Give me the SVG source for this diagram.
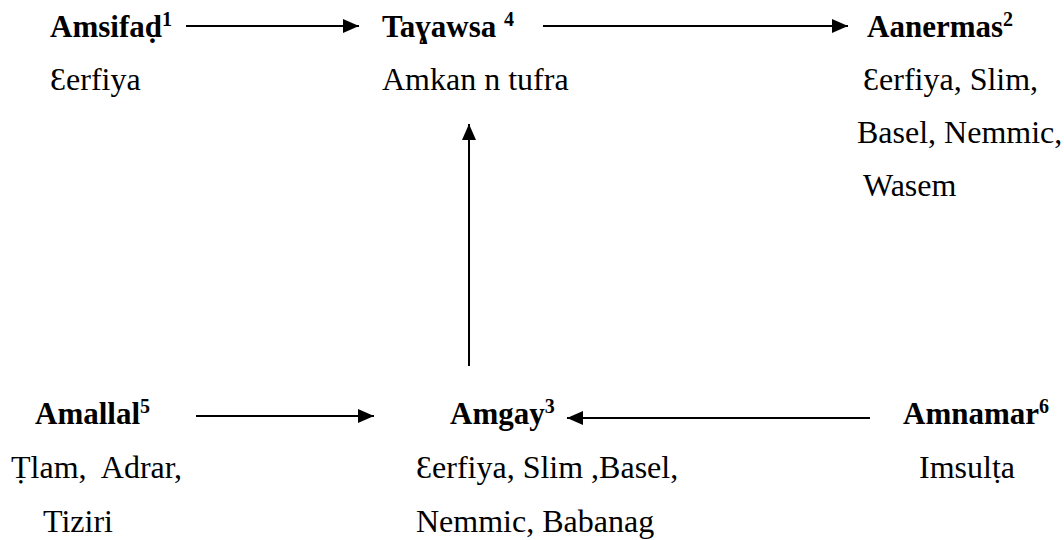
<svg xmlns="http://www.w3.org/2000/svg" width="1064" height="540" viewBox="0 0 1064 540" font-family="'Liberation Serif', 'Times New Roman', Tinos, serif">
<style>
text{font-family:"Liberation Serif","Times New Roman",Tinos,serif;font-size:32px;fill:#000;white-space:pre}
.h{font-weight:bold;font-size:31px}
.sup{font-size:20px;font-weight:bold}
.edge{stroke:#000;stroke-width:2;fill:none;marker-end:url(#ah)}
</style>
<defs>
<marker id="ah" markerUnits="userSpaceOnUse" markerWidth="18" markerHeight="16" refX="16" refY="8" orient="auto">
<path d="M0,1 L16,8 L0,15 Z" fill="#000"/>
</marker>
</defs>
<rect width="1064" height="540" fill="#fff"/>
<g id="connectors">
<line class="edge" x1="186" y1="26" x2="359" y2="26"/>
<line class="edge" x1="543" y1="26" x2="848" y2="26"/>
<line class="edge" x1="469" y1="366" x2="469" y2="124"/>
<line class="edge" x1="196" y1="416" x2="374" y2="416"/>
<line class="edge" x1="870" y1="418" x2="567" y2="418"/>
</g>
<g id="amsifad">
<text class="h" x="50" y="37">Amsifaḍ<tspan class="sup" dy="-11">1</tspan></text>
<text x="50" y="90">Ɛerfiya</text>
</g>
<g id="tagawsa">
<text class="h" x="382" y="37">Taɣawsa <tspan class="sup" dy="-11">4</tspan></text>
<text x="382" y="90">Amkan n tufra</text>
</g>
<g id="aanermas">
<text class="h" x="867" y="37">Aanermas<tspan class="sup" dy="-11">2</tspan></text>
<text x="863" y="90">Ɛerfiya, Slim,</text>
<text x="857" y="143">Basel, Nemmic,</text>
<text x="863" y="196">Wasem</text>
</g>
<g id="amallal">
<text class="h" x="35" y="424">Amallal<tspan class="sup" dy="-11">5</tspan></text>
<text x="11" y="478">Ṭlam,  Adrar,</text>
<text x="43" y="532">Tiziri</text>
</g>
<g id="amgay">
<text class="h" x="450" y="424">Amgay<tspan class="sup" dy="-11">3</tspan></text>
<text x="416" y="478">Ɛerfiya, Slim ,Basel,</text>
<text x="416" y="532">Nemmic, Babanag</text>
</g>
<g id="amnamar">
<text class="h" x="903" y="424">Amnamar<tspan class="sup" dy="-11">6</tspan></text>
<text x="919" y="478">Imsulṭa</text>
</g>
</svg>
